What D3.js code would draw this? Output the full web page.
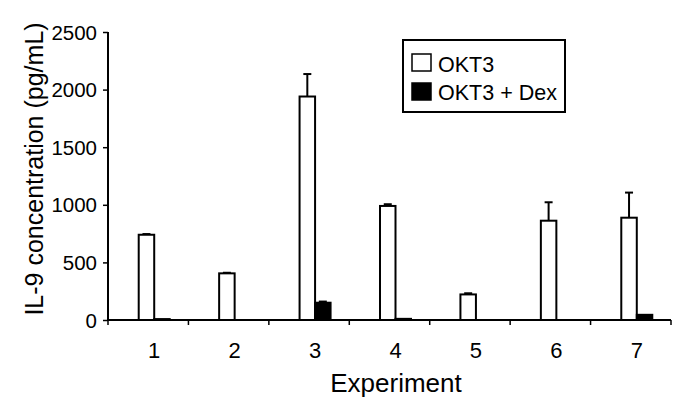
<!DOCTYPE html>
<html>
<head>
<meta charset="utf-8">
<script src="https://cdn.jsdelivr.net/npm/d3@7"></script>
<style>
  body { margin: 0; background: #fff; }
  text { font-family: "Liberation Sans", Arial, sans-serif; fill: #000; }
</style>
</head>
<body>
<script>
var experiments = ["1", "2", "3", "4", "5", "6", "7"];
var seriesNames = ["OKT3", "OKT3 + Dex"];
var okt3 = [740, 405, 1940, 990, 222, 862, 888];
var okt3Err = [6, 5, 195, 15, 10, 160, 218];
var okt3Dex = [8, 0, 150, 10, 0, 0, 45];
var okt3DexErr = [0, 0, 10, 0, 0, 0, 0];
var yTicks = [0, 500, 1000, 1500, 2000, 2500];

var width = 685;
var height = 403;

// svg canvas
var svg = d3.select("body")
  .append("svg")
  .attr("width", width)
  .attr("height", height);

// plot area
var padding = { left: 108, right: 14, top: 32, bottom: 83 };

// x scale: one band per experiment
var xScale = d3.scaleBand()
  .domain(experiments)
  .range([padding.left, width - padding.right]);

// y scale
var yScale = d3.scaleLinear()
  .domain([0, 2500])
  .range([height - padding.bottom, padding.top]);

// bars sit a little right of the band centre
var shift = 6;
var barW = 15.5;
var xSub = d3.scaleBand()
  .domain(seriesNames)
  .range([-barW, barW]);

// build rows for the bars
var rows = [];
experiments.forEach(function (e, i) {
  rows.push({ exp: e, s: seriesNames[0], v: okt3[i], err: okt3Err[i], fill: "#fff" });
  rows.push({ exp: e, s: seriesNames[1], v: okt3Dex[i], err: okt3DexErr[i], fill: "#000" });
});
rows = rows.filter(function (d) { return d.v > 0; });

function barX(d) {
  return xScale(d.exp) + xScale.bandwidth() / 2 + shift + xSub(d.s);
}

// error bars (drawn first so bar outline sits on top)
var errG = svg.append("g");
rows.filter(function (d) { return d.err > 0; }).forEach(function (d) {
  var cx = barX(d) + barW / 2;
  errG.append("line")
    .attr("x1", cx).attr("x2", cx)
    .attr("y1", yScale(d.v)).attr("y2", yScale(d.v + d.err))
    .attr("stroke", "#000").attr("stroke-width", 2);
  errG.append("line")
    .attr("x1", cx - 4).attr("x2", cx + 4)
    .attr("y1", yScale(d.v + d.err)).attr("y2", yScale(d.v + d.err))
    .attr("stroke", "#000").attr("stroke-width", 2);
});

// bars
svg.selectAll(".bar")
  .data(rows)
  .enter()
  .append("rect")
  .attr("class", "bar")
  .attr("x", barX)
  .attr("width", barW)
  .attr("y", function (d) { return yScale(d.v); })
  .attr("height", function (d) { return yScale(0) - yScale(d.v); })
  .attr("fill", function (d) { return d.fill; })
  .attr("stroke", "#000")
  .attr("stroke-width", 2);

// x axis: ticks on the band edges, labels in the middle
var xAxis = d3.axisBottom(xScale)
  .tickSize(0)
  .tickPadding(0)
  .tickFormat("");

var gx = svg.append("g")
  .attr("transform", "translate(0," + yScale(0) + ")")
  .call(xAxis);
gx.select(".domain").attr("stroke-width", 2).attr("d", "M" + padding.left + ",0H" + (width - padding.right));

var edges = experiments.map(function (e) { return xScale(e); }).concat([width - padding.right]);
gx.selectAll(".edge")
  .data(edges)
  .enter()
  .append("line")
  .attr("x1", function (d) { return d; })
  .attr("x2", function (d) { return d; })
  .attr("y1", 0)
  .attr("y2", 5)
  .attr("stroke", "#000")
  .attr("stroke-width", 1.5);

gx.selectAll(".lab")
  .data(experiments)
  .enter()
  .append("text")
  .attr("x", function (d) { return xScale(d) + xScale.bandwidth() / 2 + shift; })
  .attr("y", 38)
  .attr("text-anchor", "middle")
  .style("font-size", "22px")
  .text(function (d) { return d; });

// y axis
var yAxis = d3.axisLeft(yScale)
  .tickValues(yTicks)
  .tickSize(5)
  .tickPadding(6)
  .tickFormat(d3.format("d"));

var gy = svg.append("g")
  .attr("transform", "translate(" + padding.left + ",0)")
  .call(yAxis);
gy.select(".domain").attr("stroke-width", 2).attr("d", "M0," + yScale(2500) + "V" + yScale(0));
gy.selectAll(".tick line").attr("stroke-width", 1.5);
gy.selectAll(".tick text")
  .style("font-size", "20.5px")
  .attr("dy", "0.35em");

// axis titles
svg.append("text")
  .attr("x", 396)
  .attr("y", 392)
  .attr("text-anchor", "middle")
  .style("font-size", "26px")
  .text("Experiment");

svg.append("text")
  .attr("transform", "translate(43,169) rotate(-90)")
  .attr("text-anchor", "middle")
  .style("font-size", "25px")
  .text("IL-9 concentration (pg/mL)");

// legend
var legend = svg.append("g").attr("transform", "translate(403,40)");
legend.append("rect")
  .attr("width", 162)
  .attr("height", 72)
  .attr("fill", "#fff")
  .attr("stroke", "#000")
  .attr("stroke-width", 2);

var fills = ["#fff", "#000"];
seriesNames.forEach(function (s, i) {
  legend.append("rect")
    .attr("x", 9)
    .attr("y", 14 + i * 29)
    .attr("width", 19)
    .attr("height", 17)
    .attr("fill", fills[i])
    .attr("stroke", "#000")
    .attr("stroke-width", 1.5);
  legend.append("text")
    .attr("x", 35)
    .attr("y", 32 + i * 28)
    .style("font-size", "21.5px")
    .text(s);
});
</script>
</body>
</html>
